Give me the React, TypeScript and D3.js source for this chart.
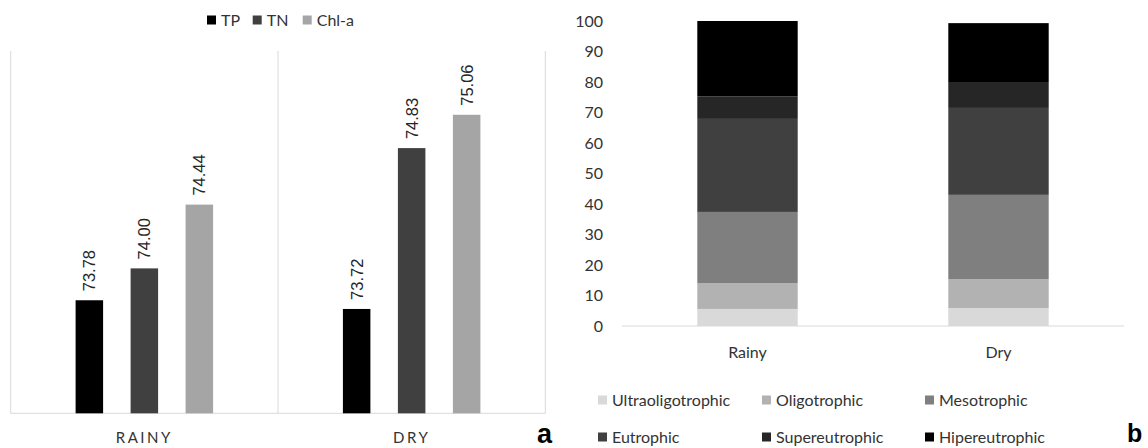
import React from "react";
import * as d3 from "d3";

// ---------- Panel a data ----------
const groups = ["RAINY", "DRY"];
const seriesNames = ["TP", "TN", "Chl-a"];
const tpValues = [73.78, 73.72];
const tnValues = [74.0, 74.83];
const chlValues = [74.44, 75.06];
const seriesColors = ["#000000", "#404040", "#a5a5a5"];

// ---------- Panel b data ----------
const seasons = ["Rainy", "Dry"];
const classNames = ["Ultraoligotrophic", "Oligotrophic", "Mesotrophic", "Eutrophic", "Supereutrophic", "Hipereutrophic"];
const ultraValues = [5.6, 5.9];
const oligoValues = [8.5, 9.5];
const mesoValues = [23.3, 27.6];
const eutroValues = [30.5, 28.5];
const superValues = [7.4, 8.5];
const hiperValues = [24.7, 19.3];
const classColors = ["#d9d9d9", "#b2b2b2", "#7f7f7f", "#404040", "#262626", "#000000"];

const FONT = "Lato, 'Liberation Sans', sans-serif";
const NUMFONT = "'Liberation Sans', Arial, sans-serif";

export default function App() {
  // ---- Panel a scales
  const aLeft = 10.7, aRight = 545.3, aTop = 51, aBottom = 413.3;
  const xa = d3.scaleBand<string>().domain(groups).range([aLeft, aRight]).padding(0);
  const ya = d3.scaleLinear().domain([73.0, 75.5]).range([aBottom, aTop]);
  const seriesValues = [tpValues, tnValues, chlValues];

  // ---- Panel b scales
  const bLeft = 622, bRight = 1124, bBottom = 326, bTop = 21;
  const xb = d3.scaleBand<string>().domain(seasons).range([bLeft, bRight]).paddingInner(0.6).paddingOuter(0.3);
  const yb = d3.scaleLinear().domain([0, 100]).range([bBottom, bTop]);
  const rows = seasons.map((s, i) => ({
    season: s,
    Ultraoligotrophic: ultraValues[i],
    Oligotrophic: oligoValues[i],
    Mesotrophic: mesoValues[i],
    Eutrophic: eutroValues[i],
    Supereutrophic: superValues[i],
    Hipereutrophic: hiperValues[i],
  }));
  const stacked = d3.stack<any>().keys(classNames)(rows);

  const legendA = [207, 252.7, 302.7];
  const legendBX = [598, 762, 925];
  const legendBY = [400, 437];

  return (
    <svg width={1148} height={448} style={{ position: "absolute", left: 0, top: 0, background: "#fff" }}>
      <rect x={0} y={0} width={1148} height={448} fill="#fff" />
      {/* ===== Panel a ===== */}
      {seriesNames.map((name, i) => (
        <g key={name}>
          <rect x={legendA[i]} y={15.5} width={9} height={9} fill={seriesColors[i]} />
          <text x={legendA[i] + 14} y={20} dy="0.36em" fontFamily={FONT} fontSize={16} fill="#333">
            {name}
          </text>
        </g>
      ))}
      {/* frame lines */}
      <line x1={aLeft} x2={aRight} y1={aBottom} y2={aBottom} stroke="#d9d9d9" strokeWidth={1} />
      {[aLeft, ...groups.map((g) => (xa(g) as number) + xa.bandwidth())].map((x, i) => (
        <line key={i} x1={x} x2={x} y1={aTop} y2={aBottom} stroke="#d9d9d9" strokeWidth={1} />
      ))}
      {groups.map((g, gi) => {
        const gx = xa(g) as number;
        const c = gx + xa.bandwidth() / 2;
        const inner = d3.scaleBand<string>().domain(seriesNames).range([c - 82.5, c + 82.5]).paddingInner(0.5).paddingOuter(0.25);
        return (
          <g key={g}>
            {seriesNames.map((s, si) => {
              const v = seriesValues[si][gi];
              const x = inner(s) as number;
              const y = ya(v);
              const cx = x + inner.bandwidth() / 2;
              return (
                <g key={s}>
                  <rect x={x} y={y} width={inner.bandwidth()} height={aBottom - y} fill={seriesColors[si]} />
                  <text
                    transform={`translate(${cx},${y - 9}) rotate(-90)`}
                    dy="0.36em"
                    textAnchor="start"
                    fontFamily={NUMFONT}
                    fontSize={16.5}
                    fill="#262626"
                  >
                    {v.toFixed(2)}
                  </text>
                </g>
              );
            })}
            <text x={c} y={438} dy="0.36em" textAnchor="middle" fontFamily={FONT} fontSize={15} letterSpacing={2.5} fill="#333">
              {g}
            </text>
          </g>
        );
      })}
      <text x={537} y={443} fontFamily={NUMFONT} fontWeight="bold" fontSize={27} fill="#000">a</text>

      {/* ===== Panel b ===== */}
      {yb.ticks(10).map((t) => (
        <text key={t} x={603} y={yb(t)} dy="0.36em" textAnchor="end" fontFamily={FONT} fontSize={16} fill="#333">
          {t}
        </text>
      ))}
      {stacked.map((layer, li) => (
        <g key={layer.key} fill={classColors[li]}>
          {layer.map((d: any) => (
            <rect
              key={d.data.season}
              x={xb(d.data.season) as number}
              y={yb(d[1])}
              width={xb.bandwidth()}
              height={yb(d[0]) - yb(d[1])}
            />
          ))}
        </g>
      ))}
      <line x1={bLeft} x2={bRight} y1={bBottom} y2={bBottom} stroke="#d9d9d9" strokeWidth={1.2} />
      {seasons.map((s) => (
        <text key={s} x={(xb(s) as number) + xb.bandwidth() / 2} y={352} dy="0.36em" textAnchor="middle" fontFamily={FONT} fontSize={16} fill="#333">
          {s}
        </text>
      ))}
      {classNames.map((n, i) => {
        const lx = legendBX[i % 3];
        const ly = legendBY[Math.floor(i / 3)];
        return (
          <g key={n}>
            <rect x={lx} y={ly - 4.5} width={9} height={9} fill={classColors[i]} />
            <text x={lx + 14} y={ly} dy="0.36em" fontFamily={FONT} fontSize={16} fill="#333">
              {n}
            </text>
          </g>
        );
      })}
      <text x={1127} y={442} fontFamily={NUMFONT} fontWeight="bold" fontSize={25} fill="#000">b</text>
    </svg>
  );
}
